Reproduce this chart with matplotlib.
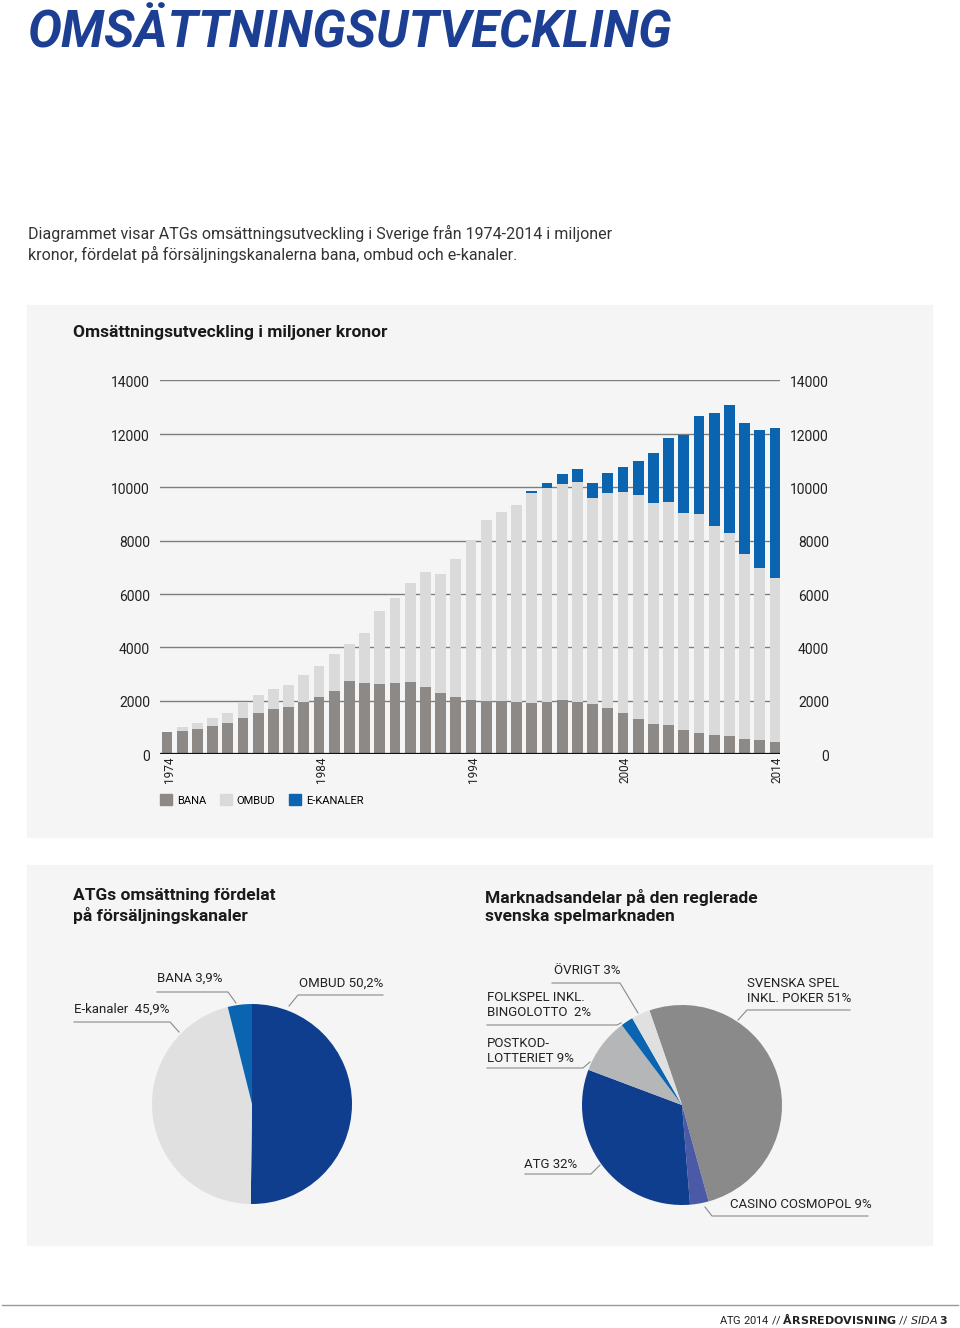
import matplotlib
matplotlib.use("Agg")
import matplotlib.pyplot as plt
from matplotlib.patches import Rectangle, Patch
from matplotlib.lines import Line2D

plt.rcParams['font.family'] = ['Roboto', 'DejaVu Sans']

W, H = 960, 1328

# --- data ---
years = list(range(1974, 2015))
bana = [810, 860, 950, 1060, 1170, 1350, 1535, 1685, 1770, 1960, 2120, 2380, 2720, 2670,
        2630, 2670, 2695, 2510, 2295, 2120, 2010, 1985, 1970, 1945, 1920, 1960, 2010, 1945,
        1860, 1720, 1520, 1310, 1120, 1075, 910, 800, 700, 675, 575, 525, 460]
ombud = [0, 150, 200, 300, 380, 580, 675, 735, 800, 1000, 1160, 1360, 1410, 1850,
         2735, 3195, 3730, 4315, 4445, 5180, 6000, 6785, 7090, 7385, 7860, 8010, 8120, 8235,
         7730, 8070, 8310, 8395, 8275, 8385, 8110, 8210, 7845, 7625, 6910, 6435, 6140]
ekanaler = [0, 0, 0, 0, 0, 0, 0, 0, 0, 0, 0, 0, 0, 0,
            0, 0, 0, 0, 0, 0, 0, 0, 0, 0, 80, 200, 360, 490,
            570, 740, 940, 1275, 1870, 2390, 2945, 3655, 4245, 4800, 4930, 5180, 5615]
yticks = [0, 2000, 4000, 6000, 8000, 10000, 12000, 14000]
xlabel_years = [1974, 1984, 1994, 2004, 2014]

kanal_labels = ['OMBUD 50,2%', 'E-kanaler  45,9%', 'BANA 3,9%']
kanal_values = [50.2, 45.9, 3.9]

marknad_labels = ['SVENSKA SPEL\nINKL. POKER 51%', 'CASINO COSMOPOL 9%', 'ATG 32%',
                  'POSTKOD-\nLOTTERIET 9%', 'FOLKSPEL INKL.\nBINGOLOTTO  2%', 'ÖVRIGT 3%']
marknad_values = [51, 3, 32, 9, 2, 3]

c_bana = '#8d8986'
c_ombud = '#dadada'
c_ekan = '#0a64b0'
c_dark = '#103e8f'
title_blue = '#1c3f94'


def fx(px):
    return px / W


def fy(py):
    return 1 - py / H


def box(x0, y0, x1, y1):
    return [fx(x0), fy(y1), (x1 - x0) / W, (y1 - y0) / H]


fig = plt.figure(figsize=(9.6, 13.28), dpi=100)
fig.patch.set_facecolor('white')

# panels
fig.patches.append(Rectangle((fx(27), fy(837)), 905 / W, 532 / H, transform=fig.transFigure,
                             color='#f5f5f5', zorder=-10))
fig.patches.append(Rectangle((fx(27), fy(1245)), 905 / W, 380 / H, transform=fig.transFigure,
                             color='#f5f5f5', zorder=-10))

# header texts
fig.text(fx(27), fy(34), 'OMSÄTTNINGSUTVECKLING', fontsize=36.5, fontweight='bold',
         fontstyle='italic', color=title_blue, va='center', ha='left')
fig.text(fx(28), fy(244), 'Diagrammet visar ATGs omsättningsutveckling i Sverige från 1974-2014 i miljoner\n'
         'kronor, fördelat på försäljningskanalerna bana, ombud och e-kanaler.',
         fontsize=11.5, color='#333333', va='center', ha='left', linespacing=1.35)
fig.text(fx(73), fy(332), 'Omsättningsutveckling i miljoner kronor', fontsize=12.5,
         fontweight='bold', color='#1a1a1a', va='center')

# --- bar chart ---
ax = fig.add_axes(box(160, 380.5, 780, 754))
ax.set_facecolor('none')
ax.set_zorder(2)
ax.set_xlim(1973.54, 2014.33)
ax.set_ylim(0, 14000)
for v in yticks[1:]:
    ax.axhline(v, color='#7d7d7d', lw=1.0, zorder=1)
ax.axhline(0, color='#111111', lw=1.6, zorder=4)
b1 = [a for a in bana]
b2 = [a + b for a, b in zip(bana, ombud)]
ax.bar(years, bana, width=0.72, color=c_bana, zorder=3)
ax.bar(years, ombud, width=0.72, bottom=b1, color=c_ombud, zorder=3)
ax.bar(years, ekanaler, width=0.72, bottom=b2, color=c_ekan, zorder=3)
for s in ax.spines.values():
    s.set_visible(False)
ax.set_yticks([])
ax.set_xticks([y + 0.15 for y in xlabel_years])
ax.set_xticklabels([str(y) for y in xlabel_years], rotation=90, fontsize=8.5, color='#222222')
ax.tick_params(axis='x', length=0, pad=2)
for v in yticks:
    ax.text(-10 / 620, v - 100, str(v), transform=ax.get_yaxis_transform(), ha='right',
            va='center', fontsize=10, color='#222222')
    ax.text(669 / 620, v - 100, str(v), transform=ax.get_yaxis_transform(), ha='right',
            va='center', fontsize=10, color='#222222')

handles = [Patch(color=c_bana, label='BANA'), Patch(color=c_ombud, label='OMBUD'),
           Patch(color=c_ekan, label='E-KANALER')]
fig.legend(handles=handles, loc='center left', bbox_to_anchor=(fx(160), fy(800)), ncol=3,
           frameon=False, fontsize=8, handlelength=1.1, handleheight=1.1, handletextpad=0.4,
           columnspacing=1.25, borderpad=0, borderaxespad=0)

# --- pie titles ---
fig.text(fx(73), fy(906), 'ATGs omsättning fördelat\npå försäljningskanaler', fontsize=12.5,
         fontweight='bold', color='#1a1a1a', va='center', linespacing=1.25)
fig.text(fx(485), fy(906), 'Marknadsandelar på den reglerade\nsvenska spelmarknaden', fontsize=12.5,
         fontweight='bold', color='#1a1a1a', va='center', linespacing=1.25)

# pie 1
r1 = 100
ax1 = fig.add_axes(box(252 - r1, 1104 - r1, 252 + r1, 1104 + r1))
ax1.set_zorder(2)
ax1.pie(kanal_values, colors=[c_dark, '#e0e0e0', c_ekan], startangle=90, counterclock=False,
        wedgeprops=dict(linewidth=0))
ax1.set_xlim(-1, 1)
ax1.set_ylim(-1, 1)
ax1.axis('off')

# pie 2
r2 = 100
ax2 = fig.add_axes(box(682 - r2, 1105 - r2, 682 + r2, 1105 + r2))
ax2.set_zorder(2)
ax2.pie(marknad_values, colors=['#8a8a8a', '#4b5aa6', c_dark, '#b5b6b8', c_ekan, '#e0e0e0'],
        startangle=109, counterclock=False, wedgeprops=dict(linewidth=0))
ax2.set_xlim(-1, 1)
ax2.set_ylim(-1, 1)
ax2.axis('off')


def leader(pts):
    xs = [fx(p[0]) for p in pts]
    ys = [fy(p[1]) for p in pts]
    fig.add_artist(Line2D(xs, ys, transform=fig.transFigure, color='#8a8a8a', lw=0.8, zorder=5))


lab_kw = dict(fontsize=9.5, color='#222222', ha='left', va='center', linespacing=1.2)

# pie 1 labels
fig.text(fx(74), fy(1009), kanal_labels[1], **lab_kw)
leader([(74, 1022), (170, 1022), (179, 1032)])
fig.text(fx(157), fy(978), kanal_labels[2], **lab_kw)
leader([(157, 992), (228, 992), (236, 1003)])
fig.text(fx(299), fy(983), kanal_labels[0], **lab_kw)
leader([(383, 995), (298, 995), (289, 1006)])

# pie 2 labels
fig.text(fx(554), fy(971), marknad_labels[5], **lab_kw)
leader([(552, 983), (620, 983), (638, 1013)])
fig.text(fx(487), fy(1005), marknad_labels[4], **lab_kw)
leader([(487, 1025), (617, 1025), (621, 1023)])
fig.text(fx(487), fy(1051), marknad_labels[3], **lab_kw)
leader([(487, 1068), (583, 1068), (590, 1062)])
fig.text(fx(747), fy(991), marknad_labels[0], **lab_kw)
leader([(850, 1010), (747, 1010), (738, 1020)])
fig.text(fx(524), fy(1164), marknad_labels[2], **lab_kw)
leader([(525, 1174), (591, 1174), (600, 1165)])
fig.text(fx(730), fy(1205), marknad_labels[1], **lab_kw)
leader([(868, 1216), (712, 1216), (705, 1207)])

# footer
fig.add_artist(Line2D([fx(2), fx(958)], [fy(1305), fy(1305)], transform=fig.transFigure,
                      color='#999999', lw=1.0))
fig.text(fx(948), fy(1319), r'ATG 2014 // $\mathbf{ÅRSREDOVISNING}$ // $\mathit{SIDA}$ $\mathbf{3}$',
         fontsize=8, color='#222222', ha='right', va='center')

fig.savefig('out.png', dpi=100, facecolor='white')
